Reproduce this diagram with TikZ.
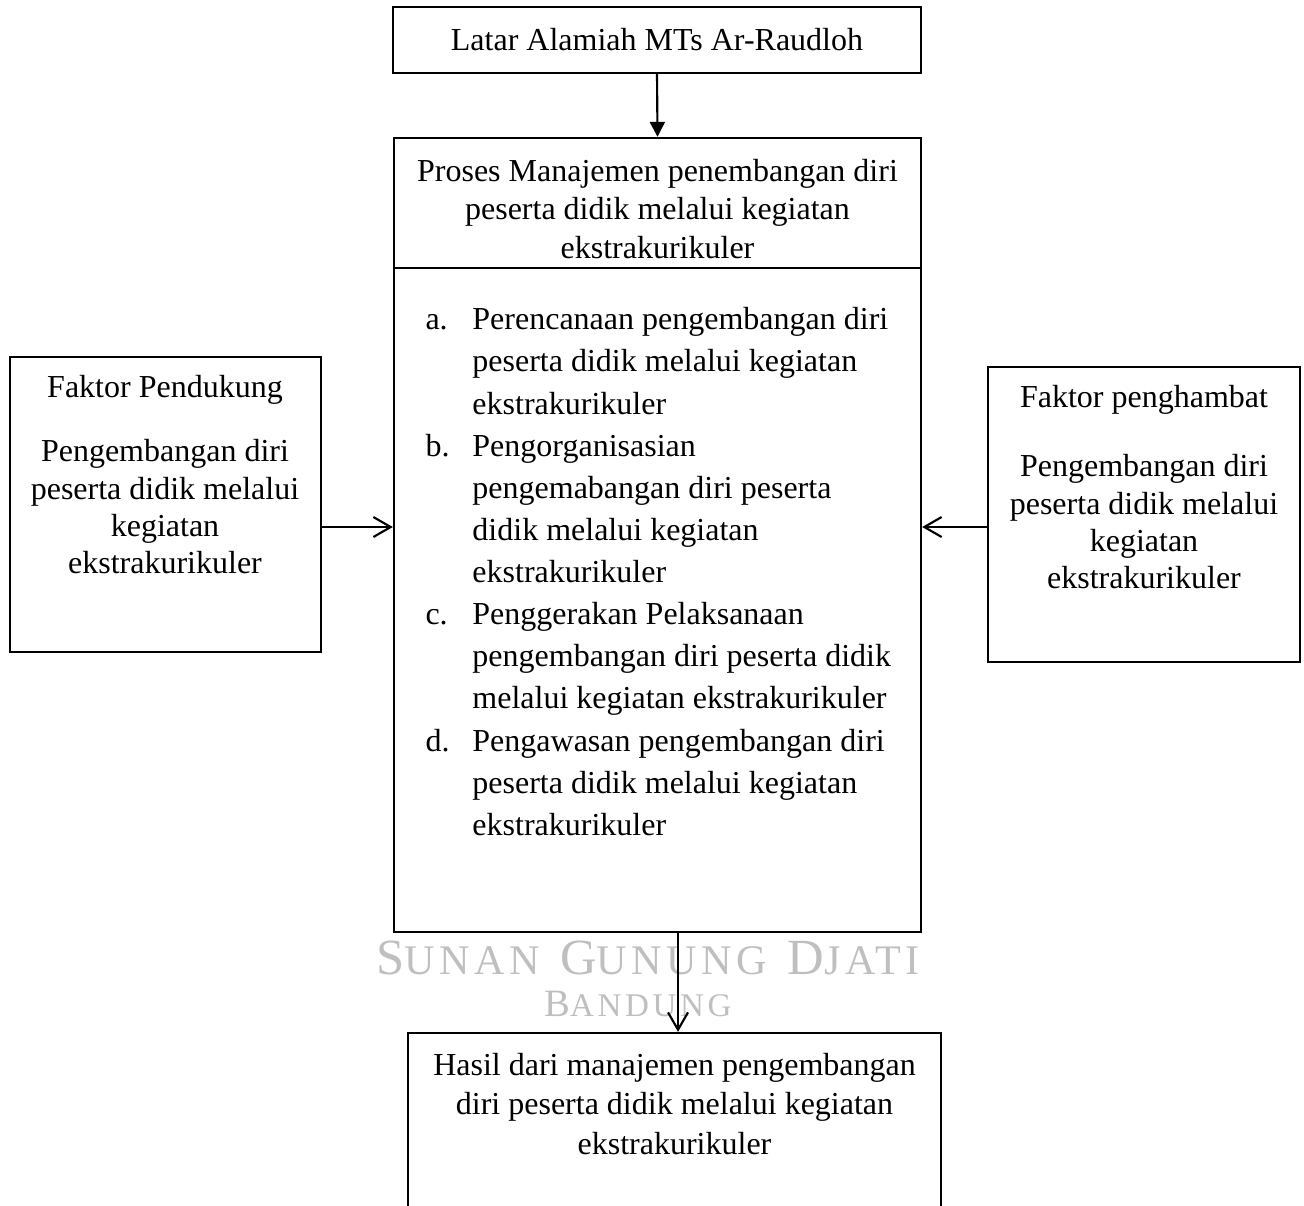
\documentclass[tikz,border=0pt]{standalone}
\usepackage{fontspec}
\setmainfont{Liberation Serif}
\newfontfamily\wmfont[LetterSpace=11]{Liberation Serif}
\usetikzlibrary{arrows.meta}

\newcommand{\lbl}[1]{\makebox[17.6pt][l]{#1}}
\newcommand{\wmcap}[4]{{\fontsize{#3}{#3}\selectfont #1}{\fontsize{#4}{#4}\selectfont #2}}

\begin{document}
\begin{tikzpicture}[x=0.375pt, y=-0.375pt,
    box/.style={draw, line width=0.9pt, inner sep=0pt},
    txt/.style={align=center, inner sep=0pt, font=\fontsize{12}{14}\selectfont},
    watermark/.style={inner sep=0pt, text=black!25, font=\wmfont},
    fillarrow/.style={-{Triangle[length=5.6pt,width=5.6pt]}, line width=0.8pt},
    openarrow/.style={-{Straight Barb[length=6.5pt,width=7.5pt]}, line width=0.8pt}]
    \useasboundingbox (0,0) rectangle (1304,1205);

    % Top box
    \node[box, txt, minimum width=198pt, minimum height=24.75pt] (latar) at (657,40) {Latar Alamiah MTs Ar-Raudloh};

    % Main box with title and stages
    \node[box, minimum width=197.6pt, minimum height=297.75pt] (proses) at (657.5,535) {};
    \node[txt, font=\fontsize{12}{14.6}\selectfont] (judul) at (657.5,209) {Proses Manajemen penembangan diri\\ peserta didik melalui kegiatan\\ ekstrakurikuler};
    \coordinate (garis) at (0,268);
    \draw[line width=0.9pt] (proses.west |- garis) -- (proses.east |- garis);
    \node[txt, align=left, anchor=north west, font=\fontsize{12}{15.8}\selectfont] (tahap) at (425,307) {%
        \lbl{a.}Perencanaan pengembangan diri\\
        \lbl{}peserta didik melalui kegiatan\\
        \lbl{}ekstrakurikuler\\
        \lbl{b.}Pengorganisasian\\
        \lbl{}pengemabangan diri peserta\\
        \lbl{}didik melalui kegiatan\\
        \lbl{}ekstrakurikuler\\
        \lbl{c.}Penggerakan Pelaksanaan\\
        \lbl{}pengembangan diri peserta didik\\
        \lbl{}melalui kegiatan ekstrakurikuler\\
        \lbl{d.}Pengawasan pengembangan diri\\
        \lbl{}peserta didik melalui kegiatan\\
        \lbl{}ekstrakurikuler};

    % Left box
    \node[box, minimum width=116.6pt, minimum height=110.6pt] (dukung) at (165.5,504.5) {};
    \node[txt] (dukungjudul) at (165,390) {Faktor Pendukung};
    \node[txt] (dukungisi) at (165,507) {Pengembangan diri\\ peserta didik melalui\\ kegiatan\\ ekstrakurikuler};

    % Right box
    \node[box, minimum width=117pt, minimum height=110.6pt] (hambat) at (1144,514.5) {};
    \node[txt] (hambatjudul) at (1144,400) {Faktor penghambat};
    \node[txt] (hambatisi) at (1144,522) {Pengembangan diri\\ peserta didik melalui\\ kegiatan\\ ekstrakurikuler};

    % Bottom box, open at the lower edge of the page
    \node[box, minimum width=199.9pt, minimum height=77.6pt] (hasil) at (674.5,1136.5) {};
    \node[txt, font=\fontsize{12}{14.8}\selectfont] (hasilisi) at (674.5,1104) {Hasil dari manajemen pengembangan\\ diri peserta didik melalui kegiatan\\ ekstrakurikuler};

    % Watermark
    \node[watermark] (sunan) at (648,958) {\wmcap{S}{UNAN}{19}{15.8}\hspace{4pt} \wmcap{G}{UNUNG}{19}{15.8}\hspace{4pt} \wmcap{D}{JATI}{19}{15.8}};
    \node[watermark] (bandung) at (638,1004) {\wmcap{B}{ANDUNG}{14.5}{12.4}};

    % Arrows
    \draw[fillarrow] (latar.south) -- (proses.north);
    \coordinate (tengah) at (657,527);
    \draw[openarrow] (tengah -| dukung.east) -- (tengah -| proses.west);
    \draw[openarrow] (tengah -| hambat.west) -- (tengah -| proses.east);
    \coordinate (turun) at (678,1000);
    \draw[openarrow] (turun |- proses.south) -- (turun |- hasil.north);
\end{tikzpicture}
\end{document}
